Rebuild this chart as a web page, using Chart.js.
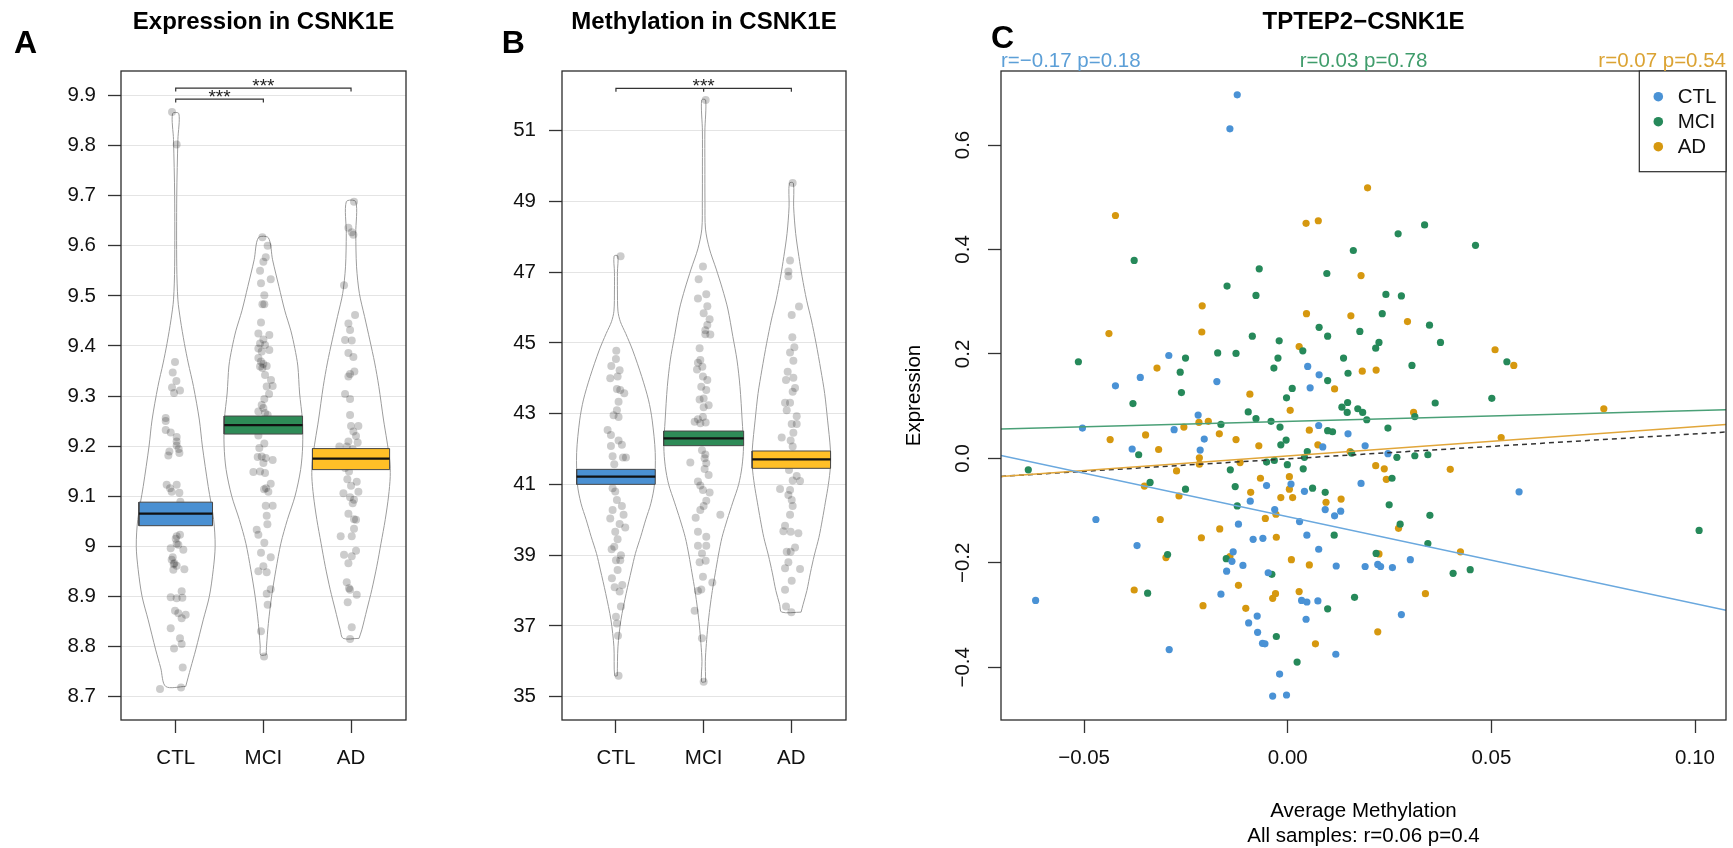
<!DOCTYPE html>
<html>
<head>
<meta charset="utf-8">
<title>CSNK1E expression and methylation</title>
<script src="https://cdn.jsdelivr.net/npm/chart.js@4.4.0/dist/chart.umd.min.js"></script>
<style>
  body { margin: 0; background: #fff; }
  #wrap { position: relative; width: 1733px; height: 848px; }
  canvas { position: absolute; top: 0; }
</style>
</head>
<body>
<div id="wrap">
  <canvas id="chartA" style="left:0px" width="460" height="848"></canvas>
  <canvas id="chartB" style="left:460px" width="435" height="848"></canvas>
  <canvas id="chartC" style="left:895px" width="838" height="848"></canvas>
</div>
<script>
const groups = ["CTL", "MCI", "AD"];

// ---- panel A: expression, [value, jitter] per sample
const ctlExprPoints = [[9.867,-0.042],[9.802,0.011],[9.368,-0.008],[9.347,-0.034],[9.330,0.008],[9.317,-0.042],[9.311,0.049],[9.306,-0.019],[9.256,-0.114],[9.250,-0.114],[9.232,-0.114],[9.227,-0.057],[9.218,0.011],[9.209,0.011],[9.201,0.011],[9.194,0.034],[9.189,-0.072],[9.186,0.042],[9.181,-0.084],[9.123,-0.103],[9.123,0.011],[9.116,-0.065],[9.109,-0.046],[9.107,0.042],[9.089,0.053],[9.023,0.049],[9.020,0.011],[9.015,0],[9.005,0.011],[8.996,-0.057],[8.993,0.087],[9.003,0.030],[8.978,-0.034],[8.973,-0.046],[8.966,-0.015],[8.964,-0.023],[8.961,0.011],[8.953,-0.027],[8.954,0.099],[8.910,0.068],[8.898,-0.057],[8.896,0.011],[8.897,0.076],[8.871,-0.008],[8.866,0.030],[8.856,0.068],[8.863,0.114],[8.836,-0.057],[8.816,0.049],[8.805,0.068],[8.796,-0.019],[8.758,0.080],[8.715,-0.179],[8.718,0.061]];
const mciExprPoints = [[9.617,-0.011],[9.600,0.049],[9.577,0.027],[9.568,0],[9.550,-0.038],[9.533,0.084],[9.525,-0.027],[9.501,0.011],[9.483,-0.011],[9.483,0.011],[9.447,-0.027],[9.425,-0.057],[9.422,0.068],[9.413,0],[9.405,-0.038],[9.402,0.019],[9.395,-0.057],[9.392,0.068],[9.389,-0.019],[9.376,-0.057],[9.369,-0.027],[9.364,0],[9.359,-0.038],[9.356,-0.011],[9.360,0.038],[9.342,0.019],[9.332,0.087],[9.319,0.038],[9.320,0.106],[9.304,0.065],[9.294,0.011],[9.282,-0.019],[9.276,0],[9.269,-0.057],[9.266,0.019],[9.262,0.049],[9.221,-0.057],[9.205,0.011],[9.196,-0.046],[9.179,-0.019],[9.178,-0.065],[9.176,0.027],[9.172,0.106],[9.166,0],[9.148,-0.114],[9.149,-0.038],[9.146,0.019],[9.125,0.084],[9.116,0.030],[9.109,0.057],[9.114,0.008],[9.081,0.027],[9.081,0.106],[9.061,0.038],[9.044,0.046],[9.033,-0.076],[9.023,-0.057],[9.007,0.011],[8.987,-0.027],[8.978,0.084],[8.960,0],[8.950,-0.057],[8.948,0.038],[8.914,0.084],[8.905,0.038],[8.883,0.049],[8.830,-0.027],[8.780,0.008]];
const adExprPoints = [[9.688,0.034],[9.636,-0.030],[9.627,0.008],[9.622,0.027],[9.521,-0.080],[9.462,0.046],[9.445,-0.030],[9.432,-0.011],[9.412,-0.068],[9.411,0.008],[9.386,-0.030],[9.378,0.027],[9.344,-0.011],[9.349,0.038],[9.339,-0.030],[9.304,-0.068],[9.294,-0.011],[9.262,-0.011],[9.240,0],[9.240,0.084],[9.229,0.027],[9.220,0.057],[9.209,-0.030],[9.207,0.076],[9.199,-0.133],[9.199,-0.049],[9.194,0.019],[9.156,-0.068],[9.149,-0.023],[9.134,-0.042],[9.129,0.065],[9.121,0],[9.106,-0.087],[9.109,0.084],[9.098,-0.011],[9.093,0.034],[9.086,0.019],[9.065,-0.030],[9.054,0.034],[9.053,0.057],[9.035,0.034],[9.020,-0.118],[9.020,0.008],[8.991,0.057],[8.983,-0.080],[8.980,0.008],[8.966,-0.030],[8.928,-0.049],[8.916,-0.023],[8.913,-0.011],[8.903,0.065],[8.888,-0.038],[8.838,0.008],[8.815,-0.011]];

// bean outlines: [value, half width in category units]
const ctlExprBean = [[8.72,0.114],[8.757,0.171],[8.793,0.228],[8.853,0.314],[8.9,0.384],[8.953,0.428],[9.0,0.450],[9.053,0.433],[9.119,0.371],[9.2,0.304],[9.252,0.270],[9.319,0.203],[9.366,0.143],[9.405,0.099],[9.452,0.054],[9.492,0.025],[9.559,0.012],[9.7,0.012],[9.812,0.025],[9.864,0.036]];
const mciExprBean = [[8.783,0.032],[8.8,0.036],[8.846,0.057],[8.9,0.094],[8.953,0.143],[9.006,0.200],[9.053,0.274],[9.1,0.361],[9.153,0.425],[9.2,0.448],[9.252,0.445],[9.306,0.413],[9.36,0.393],[9.395,0.359],[9.43,0.314],[9.47,0.245],[9.519,0.177],[9.572,0.105],[9.616,0.057]];
const adExprBean = [[8.816,0.091],[8.833,0.123],[8.873,0.180],[8.913,0.237],[8.96,0.294],[9.006,0.342],[9.053,0.390],[9.1,0.428],[9.139,0.447],[9.172,0.441],[9.212,0.408],[9.252,0.371],[9.319,0.317],[9.366,0.270],[9.412,0.214],[9.459,0.154],[9.505,0.095],[9.558,0.063],[9.625,0.054],[9.688,0.054]];

const exprMean = [9.065, 9.242, 9.175];
const exprLower = [9.041, 9.224, 9.153];
const exprUpper = [9.088, 9.260, 9.195];
const exprTicks = [8.7, 8.8, 8.9, 9.0, 9.1, 9.2, 9.3, 9.4, 9.5, 9.6, 9.7, 9.8, 9.9];
const exprTickLabels = ["8.7", "8.8", "8.9", "9", "9.1", "9.2", "9.3", "9.4", "9.5", "9.6", "9.7", "9.8", "9.9"];
const exprBrackets = [[1, 3, 9.915, "***", []], [1, 2, 9.893, "***", []]];

// ---- panel B: methylation
const ctlMethPoints = [[47.455,0.053],[44.78,0.004],[44.35,-0.053],[44.55,0],[44.23,0.042],[44.0,-0.065],[44.05,0.019],[43.70,0.011],[43.67,0.049],[43.58,0.095],[43.34,0.030],[43.10,0.011],[42.96,-0.027],[42.91,0.030],[42.54,-0.095],[42.40,-0.057],[42.24,0.030],[42.12,0.068],[42.09,-0.057],[41.80,-0.038],[41.76,0.080],[41.76,0.114],[41.57,-0.019],[40.89,-0.038],[40.80,-0.008],[40.56,0.011],[40.39,0.068],[40.28,-0.038],[40.04,-0.065],[40.14,0.087],[39.88,0.042],[39.78,0.106],[39.66,-0.008],[39.45,0.019],[39.17,-0.049],[39.24,-0.019],[39.00,0.057],[38.86,0.049],[38.86,0],[38.58,0.019],[38.35,-0.046],[38.16,0.072],[38.09,-0.015],[37.97,0.042],[37.55,0.057],[37.26,0],[37.07,0.011],[36.72,0.023],[35.59,0.030]];
const mciMethPoints = [[51.87,0.023],[47.16,-0.008],[46.80,-0.057],[46.26,-0.065],[46.38,0.030],[46.04,0.042],[45.84,0],[45.67,0.068],[45.51,0.042],[45.36,0.019],[45.25,0.019],[45.24,0.076],[44.85,-0.046],[44.52,-0.038],[44.44,-0.065],[44.33,-0.015],[44.25,-0.076],[44.05,-0.008],[43.95,0.042],[43.76,-0.027],[43.67,0.030],[43.43,0],[43.40,-0.046],[43.24,0.057],[43.18,0],[42.91,-0.008],[42.84,-0.065],[42.77,-0.103],[42.73,-0.038],[42.75,0.023],[41.97,-0.019],[41.85,0.019],[41.62,-0.152],[41.74,0.011],[41.60,0.030],[41.44,0.011],[41.27,0.057],[41.08,-0.065],[40.97,-0.038],[40.84,-0.008],[40.77,0.068],[40.54,0.030],[40.39,0],[40.28,-0.038],[40.06,-0.091],[40.14,0.190],[39.66,-0.065],[39.52,0.030],[39.27,-0.065],[39.27,0.030],[39.05,-0.019],[38.80,-0.046],[38.84,0.023],[38.39,-0.008],[38.23,0.099],[37.99,-0.065],[38.03,-0.027],[37.43,-0.103],[36.65,-0.019],[35.42,0]];
const adMethPoints = [[49.52,0.015],[47.33,-0.015],[47.02,-0.034],[46.89,-0.034],[46.03,0.087],[45.79,0.004],[45.16,0.011],[44.73,-0.015],[44.88,0.034],[44.50,0.023],[44.19,-0.042],[43.95,-0.061],[44.02,0.023],[43.62,0.015],[43.73,0.042],[43.31,-0.072],[43.31,-0.015],[43.10,-0.053],[42.93,0.061],[42.71,0.004],[42.71,0.061],[42.33,-0.110],[42.46,0.023],[42.24,-0.008],[42.07,0.015],[41.41,-0.027],[41.24,0.061],[41.11,0.015],[41.10,0.099],[40.87,-0.129],[40.84,-0.015],[40.70,-0.034],[40.56,0.004],[40.39,0.015],[40.14,-0.015],[39.83,-0.072],[39.68,-0.091],[39.66,-0.008],[39.62,0.080],[39.22,0.042],[39.10,-0.053],[39.10,-0.008],[38.80,-0.034],[38.63,-0.072],[38.61,0.099],[38.28,0.004],[38.02,-0.072],[37.55,-0.061],[37.39,0]];

const ctlMethBean = [[35.59,0.015],[36.41,0.023],[37.17,0.057],[37.92,0.117],[38.58,0.177],[39.05,0.222],[39.52,0.282],[40.0,0.339],[40.47,0.399],[41.0,0.439],[41.9,0.448],[42.82,0.413],[43.39,0.371],[44.05,0.294],[44.8,0.190],[45.27,0.111],[45.6,0.051],[45.9,0.023],[46.5,0.017],[47.0,0.017],[47.46,0.021]];
const mciMethBean = [[35.42,0.023],[36.0,0.019],[36.5,0.031],[37.0,0.048],[37.5,0.071],[38.0,0.099],[38.5,0.133],[39.0,0.168],[39.5,0.209],[40.0,0.268],[40.5,0.333],[41.0,0.399],[41.5,0.437],[42.07,0.454],[42.82,0.439],[43.77,0.414],[44.52,0.380],[45.18,0.333],[45.96,0.276],[46.53,0.214],[47.09,0.143],[47.66,0.066],[48.22,0.021],[49.0,0.015],[50.0,0.014],[51.0,0.014],[51.87,0.023]];
const adMethBean = [[37.39,0.111],[37.6,0.133],[38.0,0.177],[38.5,0.217],[39.0,0.262],[39.5,0.314],[40.0,0.353],[40.5,0.388],[41.0,0.422],[41.5,0.445],[42.0,0.445],[42.82,0.413],[43.57,0.380],[44.24,0.336],[44.99,0.282],[45.65,0.228],[46.21,0.174],[46.87,0.123],[47.44,0.086],[48.1,0.049],[48.85,0.026],[49.52,0.023]];

const methMean = [41.22, 42.304, 41.71];
const methLower = [41.003, 42.096, 41.456];
const methUpper = [41.427, 42.51, 41.946];
const methTicks = [35, 37, 39, 41, 43, 45, 47, 49, 51];
const methTickLabels = ["35", "37", "39", "41", "43", "45", "47", "49", "51"];
const methBrackets = [[1, 3, 52.2, "***", [2]]];

// ---- panel C: average methylation vs expression, [x, y] per sample
const ctlPairs = [[-0.0124,0.696],[-0.0142,0.631],[-0.0292,0.197],[0.0049,0.176],[-0.0362,0.155],[-0.0423,0.139],[-0.0174,0.147],[0.0077,0.160],[0.0055,0.135],[-0.0220,0.083],[-0.0504,0.058],[-0.0279,0.055],[0.0076,0.063],[-0.0205,0.037],[0.0086,0.022],[-0.0382,0.018],[-0.0215,0.016],[-0.0052,-0.052],[0.0008,-0.049],[0.0041,-0.063],[-0.0092,-0.082],[-0.0032,-0.098],[0.0092,-0.098],[-0.0471,-0.117],[0.0029,-0.121],[-0.0121,-0.126],[0.0047,-0.147],[-0.0085,-0.155],[-0.0061,-0.153],[-0.0370,-0.167],[0.0076,-0.174],[-0.0134,-0.179],[-0.0137,-0.197],[-0.0110,-0.205],[-0.0150,-0.216],[-0.0048,-0.219],[-0.0164,-0.260],[-0.0619,-0.272],[0.0034,-0.272],[0.0047,-0.275],[0.0074,-0.273],[-0.0075,-0.302],[-0.0096,-0.315],[0.0045,-0.308],[-0.0074,-0.333],[-0.0062,-0.354],[-0.0056,-0.355],[-0.0291,-0.366],[-0.0020,-0.413],[-0.0037,-0.455],[-0.0003,-0.453],[0.0148,0.047],[0.0190,0.024],[0.0246,0.009],[0.0180,-0.048],[0.0568,-0.064],[0.0130,-0.101],[0.0115,-0.110],[0.0301,-0.194],[0.0119,-0.206],[0.0190,-0.207],[0.0221,-0.203],[0.0228,-0.207],[0.0257,-0.209],[0.0279,-0.299],[0.0118,-0.375]];
const mciPairs = [[-0.0377,0.379],[-0.0070,0.363],[-0.0149,0.330],[-0.0078,0.312],[0.0096,0.354],[-0.0087,0.234],[0.0077,0.251],[0.0098,0.234],[-0.0514,0.185],[-0.0021,0.225],[0.0037,0.206],[-0.0251,0.192],[-0.0172,0.202],[-0.0127,0.201],[-0.0024,0.192],[-0.0264,0.165],[-0.0034,0.173],[0.0098,0.149],[-0.0261,0.126],[0.0011,0.134],[-0.0380,0.105],[-0.0003,0.116],[-0.0097,0.089],[-0.0078,0.076],[-0.0041,0.071],[0.0336,0.447],[0.0271,0.430],[0.0461,0.408],[0.0161,0.398],[0.0241,0.314],[0.0279,0.311],[0.0232,0.277],[0.0348,0.255],[0.0177,0.243],[0.0375,0.222],[0.0224,0.222],[0.0216,0.211],[0.0137,0.192],[0.0538,0.185],[0.0148,0.163],[0.0305,0.178],[0.0501,0.115],[0.0362,0.106],[0.0133,0.098],[0.0147,0.107],[0.0146,0.088],[0.0172,0.095],[0.0184,0.088],[0.0312,0.080],[-0.0164,0.065],[-0.0019,0.060],[0.0098,0.053],[-0.0004,0.035],[-0.0017,0.026],[-0.0366,0.007],[0.0048,0.013],[0.0041,0.002],[-0.0052,-0.007],[-0.0033,-0.004],[-0.0001,-0.012],[-0.0637,-0.022],[-0.0141,-0.022],[0.0038,-0.020],[-0.0338,-0.046],[-0.0129,-0.054],[0.0061,-0.057],[-0.0251,-0.059],[0.0092,-0.065],[-0.0124,-0.091],[-0.0295,-0.184],[-0.0151,-0.192],[-0.0039,-0.222],[-0.0344,-0.258],[0.0098,-0.288],[-0.0028,-0.341],[0.0023,-0.390],[0.0194,0.074],[0.0246,0.058],[0.0110,0.051],[0.0157,0.010],[0.0268,0.002],[0.0312,0.005],[0.0344,0.007],[0.0256,-0.038],[0.0249,-0.089],[0.0349,-0.109],[0.0276,-0.126],[0.1010,-0.138],[0.0114,-0.147],[0.0344,-0.163],[0.0217,-0.182],[0.0406,-0.220],[0.0448,-0.213],[0.0164,-0.266]];
const adPairs = [[-0.0423,0.465],[0.0045,0.450],[0.0075,0.455],[-0.0210,0.292],[0.0046,0.277],[-0.0439,0.239],[-0.0211,0.242],[0.0028,0.214],[-0.0321,0.173],[-0.0093,0.123],[0.0006,0.092],[0.0196,0.518],[0.0180,0.350],[0.0155,0.273],[0.0294,0.262],[0.0509,0.208],[0.0555,0.178],[0.0183,0.167],[0.0217,0.169],[0.0115,0.133],[0.0776,0.095],[0.0309,0.088],[-0.0218,0.069],[-0.0195,0.071],[-0.0255,0.060],[0.0053,0.054],[-0.0349,0.045],[-0.0168,0.047],[-0.0436,0.036],[-0.0127,0.036],[0.0074,0.026],[-0.0317,0.017],[-0.0071,0.024],[-0.0217,0.001],[-0.0217,-0.011],[-0.0117,-0.008],[-0.0273,-0.024],[-0.0067,-0.038],[0.0004,-0.035],[-0.0352,-0.053],[0.0004,-0.059],[-0.0091,-0.065],[-0.0267,-0.072],[-0.0017,-0.075],[0.0012,-0.075],[0.0094,-0.084],[-0.0029,-0.107],[-0.0313,-0.117],[-0.0055,-0.115],[-0.0167,-0.135],[-0.0212,-0.152],[-0.0028,-0.151],[-0.0299,-0.190],[-0.0142,-0.188],[0.0009,-0.194],[0.0053,-0.204],[-0.0121,-0.243],[-0.0377,-0.252],[-0.0030,-0.259],[0.0028,-0.255],[-0.0037,-0.268],[-0.0208,-0.282],[-0.0103,-0.287],[0.0068,-0.355],[0.0524,0.040],[0.0153,0.013],[0.0216,-0.014],[0.0237,-0.020],[0.0399,-0.021],[0.0242,-0.040],[0.0131,-0.078],[0.0272,-0.134],[0.0224,-0.183],[0.0424,-0.179],[0.0338,-0.259],[0.0221,-0.332]];

// fitted lines, values at both ends of the x range
const fitX = [-0.0704, 0.1076];
const fitCTL = [0.0057, -0.291];
const fitMCI = [0.0563, 0.0932];
const fitAD = [-0.0345, 0.0651];
const fitAll = [-0.0345, 0.0505];
const corrLabels = ["r=\u22120.17 p=0.18", "r=0.03 p=0.78", "r=0.07 p=0.54"];
const allSamplesLabel = "All samples: r=0.06 p=0.4";
const scatterXTicks = [-0.05, 0, 0.05, 0.10];
const scatterXTickLabels = ["\u22120.05", "0.00", "0.05", "0.10"];
const scatterYTicks = [-0.4, -0.2, 0, 0.2, 0.4, 0.6];
const scatterYTickLabels = ["\u22120.4", "\u22120.2", "0.0", "0.2", "0.4", "0.6"];

const FONT = "'Liberation Sans', Arial, Helvetica, sans-serif";
const boxColors = ["#4a90d2", "#2e8b57", "#ffbf27"];
const dotColors = ["#4a92d5", "#26895a", "#d6980f"];
const fitColors = ["#6aa8de", "#4aa077", "#e1a63a"];
const labelColors = ["#5c9fd7", "#3f9c6b", "#dba333"];

Chart.defaults.font.family = FONT;
Chart.defaults.color = "#111";

function textPlugin(items) {
    return {
        id: "panelText",
        afterDraw(chart) {
            const ctx = chart.ctx;
            for (const t of items) {
                ctx.save();
                ctx.font = t.font;
                ctx.fillStyle = t.color || "#000";
                ctx.textAlign = t.align || "left";
                ctx.textBaseline = "alphabetic";
                ctx.translate(t.x, t.y);
                if (t.rotate) ctx.rotate(t.rotate);
                ctx.fillText(t.text, 0, 0);
                ctx.restore();
            }
        }
    };
}

const framePlugin = {
    id: "frame",
    afterDatasetsDraw(chart) {
        const {ctx, chartArea: a} = chart;
        ctx.save();
        ctx.strokeStyle = "#2b2b2b";
        ctx.lineWidth = 1.3;
        ctx.strokeRect(a.left, a.top, a.right - a.left, a.bottom - a.top);
        ctx.restore();
    }
};

function bracketPlugin(brackets) {
    return {
        id: "brackets",
        afterDatasetsDraw(chart) {
            const {ctx, scales: {x, y}} = chart;
            ctx.save();
            ctx.strokeStyle = "#333";
            ctx.lineWidth = 1.2;
            ctx.fillStyle = "#222";
            ctx.font = "19px " + FONT;
            ctx.textAlign = "center";
            ctx.textBaseline = "alphabetic";
            for (const [from, to, level, label, mids] of brackets) {
                const x1 = x.getPixelForValue(from), x2 = x.getPixelForValue(to);
                const py = y.getPixelForValue(level);
                ctx.beginPath();
                ctx.moveTo(x1, py + 3.5);
                ctx.lineTo(x1, py);
                ctx.lineTo(x2, py);
                ctx.lineTo(x2, py + 3.5);
                for (const m of mids) {
                    const xm = x.getPixelForValue(m);
                    ctx.moveTo(xm, py);
                    ctx.lineTo(xm, py + 3.5);
                }
                ctx.stroke();
                ctx.fillText(label, (x1 + x2) / 2, py + 4);
            }
            ctx.restore();
        }
    };
}

function beanPath(center, outline) {
    const right = outline.map(([v, w]) => ({x: center + w, y: v}));
    const left = outline.slice().reverse().map(([v, w]) => ({x: center - w, y: v}));
    return right.concat(left, [right[0]]);
}

function pirateChart(canvasId, p) {
    const datasets = [];
    p.points.forEach((pts, g) => {
        datasets.push({
            data: pts.map(([v, j]) => ({x: g + 1 + j, y: v})),
            showLine: false, pointRadius: 4, pointBorderWidth: 0,
            pointBackgroundColor: "rgba(0,0,0,0.2)", order: 2
        });
    });
    p.beans.forEach((outline, g) => {
        datasets.push({
            data: beanPath(g + 1, outline),
            borderColor: "#9c9c9c", borderWidth: 1, pointRadius: 0,
            tension: 0.3, fill: false, order: 3
        });
    });
    groups.forEach((name, g) => {
        const c = g + 1, hw = p.boxWidth[g], lo = p.lower[g], hi = p.upper[g];
        datasets.push({
            data: [{x: c - hw, y: lo}, {x: c + hw, y: lo}, {x: c + hw, y: hi}, {x: c - hw, y: hi}, {x: c - hw, y: lo}],
            fill: "shape", backgroundColor: boxColors[g], borderColor: "#474747",
            borderWidth: 1, pointRadius: 0, tension: 0, order: 1
        });
        datasets.push({
            data: [{x: c - hw, y: p.mean[g]}, {x: c + hw, y: p.mean[g]}],
            borderColor: "#111", borderWidth: 2.2, pointRadius: 0, fill: false, order: 0
        });
    });

    return new Chart(document.getElementById(canvasId), {
        type: "line",
        data: {datasets: datasets},
        options: {
            responsive: false,
            animation: false,
            events: [],
            layout: {padding: {left: 0, top: 71, right: p.padRight, bottom: 68}},
            plugins: {legend: {display: false}, tooltip: {enabled: false}},
            scales: {
                x: {
                    type: "linear", min: p.xMin, max: p.xMax, bounds: "data",
                    afterBuildTicks: s => { s.ticks = [1, 2, 3].map(v => ({value: v})); },
                    afterFit: s => { s.height = 60; },
                    ticks: {callback: (v, i) => groups[i], font: {size: 20.5}, color: "#111", padding: 13, maxRotation: 0, autoSkip: false},
                    grid: {drawOnChartArea: false, tickLength: 13, tickColor: "#333", tickWidth: 1.3},
                    border: {display: false}
                },
                y: {
                    type: "linear", min: p.yMin, max: p.yMax, bounds: "data",
                    afterBuildTicks: s => { s.ticks = p.ticks.map(v => ({value: v})); },
                    afterFit: s => { s.width = p.axisWidth; },
                    ticks: {callback: (v, i) => p.tickLabels[i], font: {size: 20.5}, color: "#111", padding: p.tickPad, autoSkip: false},
                    grid: {color: "#e4e4e4", lineWidth: 1, tickLength: 13, tickColor: "#333", tickWidth: 1.3},
                    border: {display: false}
                }
            }
        },
        plugins: [framePlugin, bracketPlugin(p.brackets), textPlugin(p.texts)]
    });
}

pirateChart("chartA", {
    points: [ctlExprPoints, mciExprPoints, adExprPoints],
    beans: [ctlExprBean, mciExprBean, adExprBean],
    mean: exprMean, lower: exprLower, upper: exprUpper,
    boxWidth: [0.42, 0.447, 0.44],
    ticks: exprTicks, tickLabels: exprTickLabels,
    brackets: exprBrackets,
    xMin: 0.376, xMax: 3.627, yMin: 8.653, yMax: 9.949,
    axisWidth: 121, padRight: 54, tickPad: 12,
    texts: [
        {text: "Expression in CSNK1E", x: 263.5, y: 28.5, font: "bold 24px " + FONT, align: "center"},
        {text: "A", x: 14, y: 53, font: "bold 32px " + FONT}
    ]
});

pirateChart("chartB", {
    points: [ctlMethPoints, mciMethPoints, adMethPoints],
    beans: [ctlMethBean, mciMethBean, adMethBean],
    mean: methMean, lower: methLower, upper: methUpper,
    boxWidth: [0.448, 0.456, 0.447],
    ticks: methTicks, tickLabels: methTickLabels,
    brackets: methBrackets,
    xMin: 0.385, xMax: 3.623, yMin: 34.34, yMax: 52.69,
    axisWidth: 102, padRight: 49, tickPad: 13,
    texts: [
        {text: "Methylation in CSNK1E", x: 244, y: 28.5, font: "bold 24px " + FONT, align: "center"},
        {text: "B", x: 41.7, y: 53, font: "bold 32px " + FONT}
    ]
});

// scatter legend drawn in the top right corner of the plot
const scatterLegend = {
    id: "scatterLegend",
    afterDatasetsDraw(chart) {
        const {ctx, chartArea: a} = chart;
        const left = a.right - 86.7, bottom = a.top + 100.7;
        ctx.save();
        ctx.fillStyle = "#fff";
        ctx.fillRect(left, a.top, a.right - left, bottom - a.top);
        ctx.strokeStyle = "#2b2b2b";
        ctx.lineWidth = 1.2;
        ctx.strokeRect(left, a.top, a.right - left, bottom - a.top);
        ctx.font = "20.5px " + FONT;
        ctx.textBaseline = "middle";
        ctx.textAlign = "left";
        groups.forEach((name, g) => {
            const cy = a.top + 25.7 + g * 25;
            ctx.fillStyle = dotColors[g];
            ctx.beginPath();
            ctx.arc(left + 19, cy, 4.8, 0, Math.PI * 2);
            ctx.fill();
            ctx.fillStyle = "#111";
            ctx.fillText(name, left + 38.4, cy + 1);
        });
        ctx.restore();
    }
};

const scatterSets = [];
[fitCTL, fitMCI, fitAD].forEach((fit, g) => {
    scatterSets.push({
        data: fitX.map((x, i) => ({x: x, y: fit[i]})),
        borderColor: fitColors[g], borderWidth: 1.5, pointRadius: 0, fill: false, order: 0
    });
});
scatterSets.push({
    data: fitX.map((x, i) => ({x: x, y: fitAll[i]})),
    borderColor: "#333", borderWidth: 1.5, borderDash: [5, 4], pointRadius: 0, fill: false, order: 0
});
[ctlPairs, mciPairs, adPairs].forEach((pairs, g) => {
    scatterSets.push({
        data: pairs.map(([x, y]) => ({x: x, y: y})),
        showLine: false, pointRadius: 3.6, pointBorderWidth: 0,
        pointBackgroundColor: dotColors[g], order: 1
    });
});

new Chart(document.getElementById("chartC"), {
    type: "line",
    data: {datasets: scatterSets},
    options: {
        responsive: false,
        animation: false,
        events: [],
        layout: {padding: {left: 0, top: 71, right: 7, bottom: 68}},
        plugins: {legend: {display: false}, tooltip: {enabled: false}},
        scales: {
            x: {
                type: "linear", min: fitX[0], max: fitX[1], bounds: "data",
                afterBuildTicks: s => { s.ticks = scatterXTicks.map(v => ({value: v})); },
                afterFit: s => { s.height = 60; },
                ticks: {callback: (v, i) => scatterXTickLabels[i], font: {size: 20.5}, color: "#111", padding: 13, maxRotation: 0, autoSkip: false},
                grid: {drawOnChartArea: false, tickLength: 13, tickColor: "#333", tickWidth: 1.3},
                border: {display: false}
            },
            y: {
                type: "linear", min: -0.5009, max: 0.7417, bounds: "data",
                afterBuildTicks: s => { s.ticks = scatterYTicks.map(v => ({value: v})); },
                afterFit: s => { s.width = 106; },
                ticks: {callback: (v, i) => scatterYTickLabels[i], font: {size: 20.5}, color: "#111", padding: 4,
                        minRotation: 90, maxRotation: 90, crossAlign: "center", autoSkip: false},
                grid: {drawOnChartArea: false, tickLength: 13, tickColor: "#333", tickWidth: 1.3},
                border: {display: false}
            }
        }
    },
    plugins: [framePlugin, scatterLegend, textPlugin([
        {text: "TPTEP2\u2212CSNK1E", x: 468.5, y: 28.5, font: "bold 24px " + FONT, align: "center"},
        {text: "C", x: 96, y: 48.3, font: "bold 32px " + FONT},
        {text: corrLabels[0], x: 106, y: 66.5, font: "20.5px " + FONT, color: labelColors[0], align: "left"},
        {text: corrLabels[1], x: 468.5, y: 66.5, font: "20.5px " + FONT, color: labelColors[1], align: "center"},
        {text: corrLabels[2], x: 831, y: 66.5, font: "20.5px " + FONT, color: labelColors[2], align: "right"},
        {text: "Expression", x: 25, y: 395.5, font: "20.5px " + FONT, align: "center", rotate: -Math.PI / 2},
        {text: "Average Methylation", x: 468.5, y: 816.5, font: "20.5px " + FONT, align: "center"},
        {text: allSamplesLabel, x: 468.5, y: 841.5, font: "20.5px " + FONT, align: "center"}
    ])]
});
</script>
</body>
</html>
